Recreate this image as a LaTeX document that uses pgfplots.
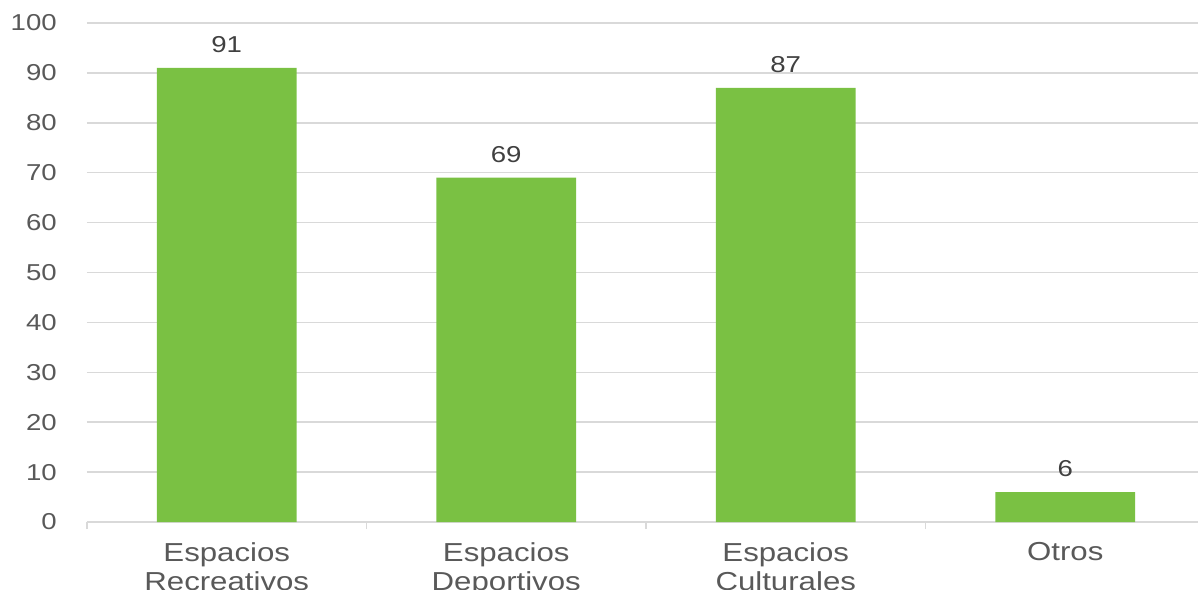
\documentclass[border=0pt]{standalone}
\usepackage{pgfplots}
\pgfplotsset{compat=1.18}
\usepackage{fontspec}
\setmainfont[FakeStretch=1.2]{Liberation Sans}
\definecolor{bargreen}{HTML}{7AC143}
\definecolor{gridgray}{HTML}{D9D9D9}
\definecolor{ticktext}{HTML}{595959}
\definecolor{valtext}{HTML}{404040}
\begin{document}
\begin{tikzpicture}
\begin{axis}[
  name=ax,
  scale only axis,
  width=1111pt, height=499pt,
  xmin=-0.5, xmax=3.475,
  ymin=0, ymax=100,
  ybar, bar width=0.5,
  ytick={0,10,...,100},
  xtick={0,1,2,3},
  xticklabels={{Espacios\\Recreativos},{Espacios\\Deportivos},{Espacios\\Culturales},{Otros}},
  minor xtick={-0.5,0.5,1.5,2.5},
  axis x line=bottom, axis y line=left,
  y axis line style={draw=none},
  x axis line style={gridgray, line width=1.5pt, -},
  ymajorgrids,
  major grid style={gridgray, line width=1.5pt},
  major tick length=0pt,
  minor tick length=7pt,
  tick align=outside,
  minor tick style={gridgray, line width=1.5pt},
  /pgf/number format/assume math mode=true,
  yticklabel style={font=\fontsize{23}{27}\selectfont, color=ticktext, anchor=east, inner sep=0pt, xshift=-30pt},
  xticklabel style={font=\fontsize{26}{29}\selectfont, color=ticktext, align=center, anchor=north, inner sep=0pt, yshift=-20pt},
  nodes near coords,
  nodes near coords style={font=\fontsize{23}{27}\selectfont, color=valtext, anchor=south, inner sep=0pt, yshift=15pt},
  clip=false,
]
\addplot[fill=bargreen, draw=none] coordinates {(0,91) (1,69) (2,87) (3,6)};
\end{axis}
\pgfresetboundingbox
\path[use as bounding box] ([xshift=-87pt,yshift=-67pt]ax.south west) rectangle ([yshift=23pt]ax.north east);
\end{tikzpicture}
\end{document}
